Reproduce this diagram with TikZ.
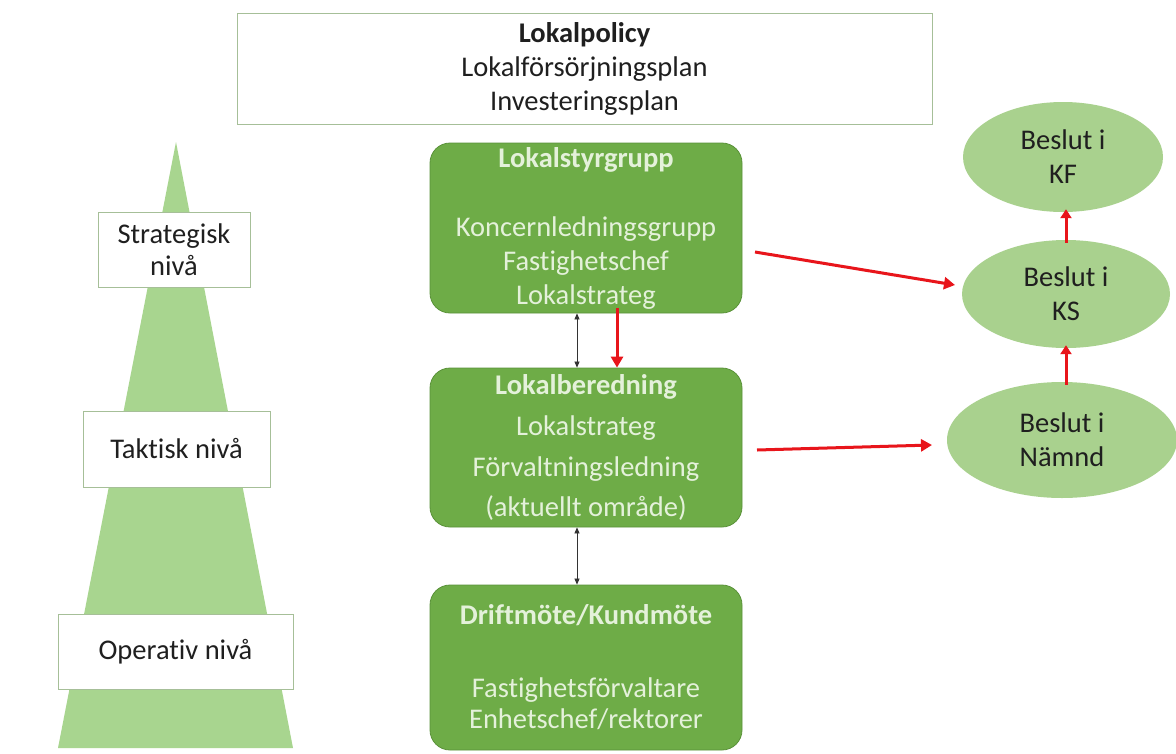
\documentclass[tikz,border=0pt]{standalone}
\usepackage{fontspec}
\setmainfont{Carlito}[RawFeature={-liga;-calt;-clig;-dlig}]
\usetikzlibrary{shapes.geometric,arrows.meta}
\definecolor{gbox}{HTML}{6EAC47}
\definecolor{gboxline}{HTML}{5A9239}
\definecolor{gtext}{HTML}{E4F1DA}
\definecolor{lgreen}{HTML}{A9D18E}
\definecolor{pyr}{HTML}{A8D58F}
\definecolor{lborder}{HTML}{A6BF98}
\definecolor{redarrow}{HTML}{E8151B}
\tikzset{
  txt/.style={font=\fontsize{28.5}{34}\selectfont, align=center, text=black!88},
  gboxst/.style={draw=gboxline, line width=0.8pt, fill=gbox, rounded corners=20pt,
    minimum width=312pt, text=gtext, align=center, font=\fontsize{28.5}{34}\selectfont, inner sep=0pt},
  lvl/.style={draw=lborder, line width=0.8pt, fill=white, txt, inner sep=0pt},
  ell/.style={ellipse, fill=lgreen, draw=none, txt, inner sep=0pt},
  redarr/.style={draw=redarrow, line width=3pt, -{Triangle[length=11pt,width=12pt]}},
  redshort/.style={draw=redarrow, line width=3pt, -{Triangle[length=9pt,width=11pt]}},
  blkarr/.style={draw=black!80, line width=0.7pt, {Triangle[length=6pt,width=5pt]}-{Triangle[length=6pt,width=5pt]}}
}
\begin{document}
\begin{tikzpicture}[x=1pt,y=-1pt]
\useasboundingbox (0,0) rectangle (1176,753);
\fill[white] (0,0) rectangle (1176,753);
% pyramid
\fill[pyr] (176,142) -- (293,748) -- (58,748) -- cycle;
% top box
\node[draw=lborder, line width=0.8pt, minimum width=695pt, minimum height=111pt, txt, inner sep=0pt] (top) at (584.5,68.5)
  {\textbf{Lokalpolicy}\\Lokalförsörjningsplan\\Investeringsplan};
% level boxes
\node[lvl, minimum width=152pt, minimum height=75pt] (strat) at (174,250) {Strategisk\\[-2pt]nivå};
\node[lvl, minimum width=187pt, minimum height=76pt] (takt) at (176.5,449) {Taktisk nivå};
\node[lvl, minimum width=235pt, minimum height=75pt] (oper) at (175.5,652) {Operativ nivå};
% green boxes
\node[gboxst, minimum height=170pt] (styr) at (586,228)
  {\textbf{Lokalstyrgrupp}\\[35pt]Koncernledningsgrupp\\Fastighetschef\\Lokalstrateg};
\node[gboxst, minimum height=159pt] (bered) at (586,447.5)
  {\textbf{Lokalberedning}\\[7pt]Lokalstrateg\\[7pt]Förvaltningsledning\\[6pt](aktuellt område)};
\node[gboxst, minimum height=165pt] (drift) at (586,667.5)
  {\textbf{Driftmöte/Kundmöte}\\[39pt]Fastighetsförvaltare\\[-3pt]Enhetschef/rektorer};
% ellipses
\node[ell, minimum width=200pt, minimum height=110pt] (kf) at (1063,157) {Beslut i\\KF};
\node[ell, minimum width=208pt, minimum height=108pt] (ks) at (1066,294) {Beslut i\\KS};
\node[ell, minimum width=230pt, minimum height=116pt] (nmd) at (1062,440) {Beslut i\\Nämnd};
% coordinates for arrows
\coordinate (a1s) at (755,252);
\coordinate (a1e) at (955,285);
\coordinate (a2s) at (757,450);
\coordinate (a2e) at (932,445);
% arrows
\draw[redarr] (a1s) -- (a1e);
\draw[redarr] (a2s) -- (a2e);
\draw[redshort] ([yshift=-3pt]ks.north -| 1066,0) -- ([yshift=3pt]kf.south -| 1066,0);
\draw[redshort] ([yshift=-3pt]nmd.north -| 1066,0) -- ([yshift=3pt]ks.south -| 1066,0);
\draw[redarr] ([yshift=5pt]styr.south -| 617,0) -- (bered.north -| 617,0);
\draw[blkarr] (styr.south -| 577,0) -- (bered.north -| 577,0);
\draw[blkarr] (bered.south -| 577,0) -- (drift.north -| 577,0);
\end{tikzpicture}
\end{document}
